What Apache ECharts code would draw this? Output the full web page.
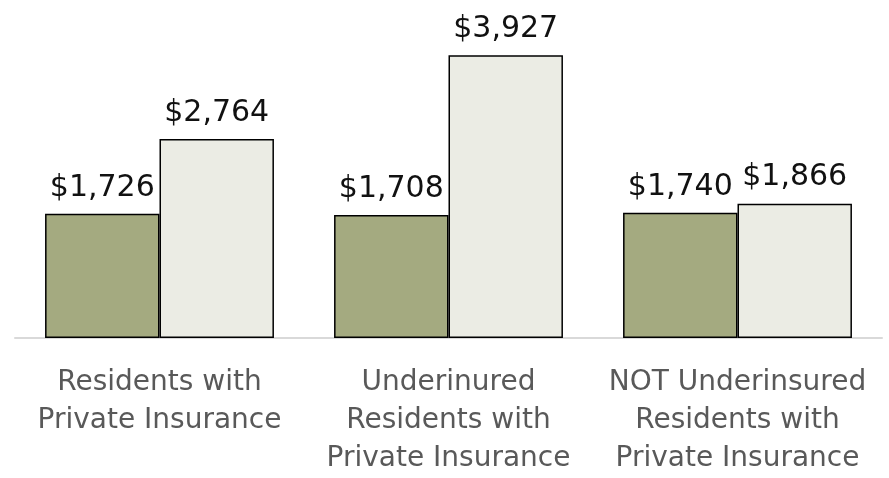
<!DOCTYPE html>
<html>
<head>
<meta charset="utf-8">
<script src="https://cdn.jsdelivr.net/npm/echarts@6/dist/echarts.min.js"></script>
<style>html,body{margin:0;padding:0;background:#fff}#c{width:889px;height:478px}</style>
</head>
<body>
<div id="c"></div>
<script>
const categories = ["Residents with\nPrivate Insurance", "Underinured\nResidents with\nPrivate Insurance", "NOT Underinsured\nResidents with\nPrivate Insurance"];
const series1Values = [1726, 1708, 1740];
const series2Values = [2764, 3927, 1866];
const seriesNames = ["Series 1", "Series 2"];

const FONT = "'Century Gothic', 'DejaVu Sans', sans-serif";
const chart = echarts.init(document.getElementById('c'));
const labelCfg = {
  show: true, position: 'top', distance: 11,
  fontFamily: FONT, fontSize: 30, color: '#111',
  formatter: p => '$' + p.value.toLocaleString('en-US')
};
chart.setOption({
  animation: false,
  grid: { left: 15, right: 7, top: 50, bottom: 138, containLabel: false },
  xAxis: {
    type: 'category', data: categories,
    axisLine: { show: true, lineStyle: { color: '#D9D9D9', width: 2 } },
    axisTick: { show: false },
    axisLabel: { interval: 0, margin: 26, fontFamily: FONT, fontSize: 28, lineHeight: 38, color: '#595959', verticalAlign: 'top' }
  },
  yAxis: { type: 'value', min: 0, max: 4000, show: false, splitLine: { show: false } },
  series: [
    { name: seriesNames[0], type: 'bar', data: series1Values, barGap: '0%', barCategoryGap: '20.8%',
      itemStyle: { color: '#A4AA80', borderColor: '#000', borderWidth: 1.5 }, label: labelCfg },
    { name: seriesNames[1], type: 'bar', data: series2Values,
      itemStyle: { color: '#EBECE4', borderColor: '#000', borderWidth: 1.5 }, label: labelCfg }
  ]
});
</script>
</body>
</html>
